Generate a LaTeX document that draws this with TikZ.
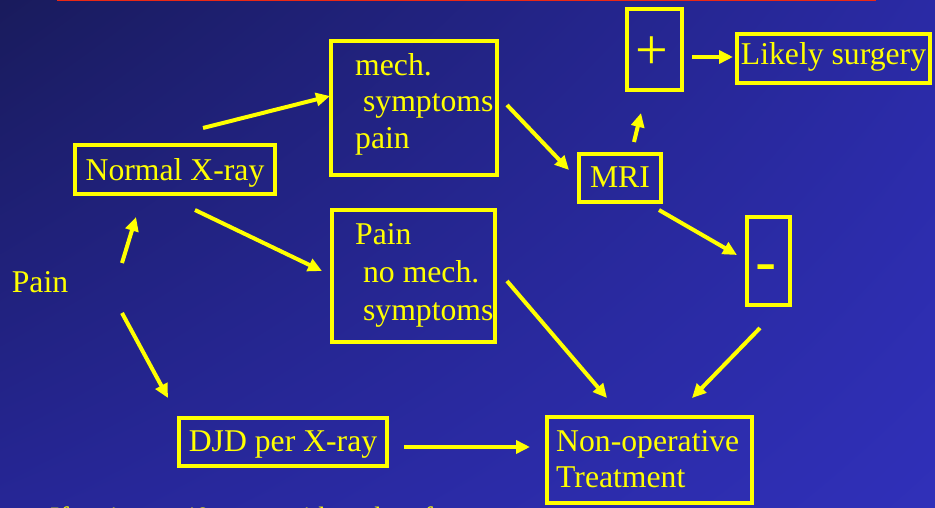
\documentclass[tikz,border=0pt]{standalone}
\usepackage{fontspec}
\setmainfont{Liberation Serif}
\newfontfamily\arialfont{Liberation Sans}
\usetikzlibrary{arrows.meta,calc,shadings}
\definecolor{ylw}{RGB}{255,255,0}
\definecolor{bgtl}{RGB}{25,27,92}
\definecolor{bgtr}{RGB}{42,42,165}
\definecolor{bgbl}{RGB}{38,38,150}
\definecolor{bgbr}{RGB}{48,48,185}
\definecolor{redline}{RGB}{235,40,20}
\begin{document}
\begin{tikzpicture}[x=1pt,y=-1pt,
  box/.style={draw=ylw, line width=4pt, inner sep=0pt, text=ylw, text height=20pt, text depth=0pt, font=\fontsize{31.7}{37}\selectfont},
  txt/.style={text=ylw, inner sep=0pt, font=\fontsize{31.7}{37}\selectfont, align=left},
  arr/.style={draw=ylw, line width=4pt, -{Triangle[length=14pt,width=13pt]}}]
\clip (0,0) rectangle (935,508);
\shade[upper left=bgtl, upper right=bgtr, lower left=bgbl, lower right=bgbr] (0,0) rectangle (935,508);
\draw[redline, line width=3pt] (57,0) -- (876,0);

% boxes
\node[box, minimum width=55pt, minimum height=81pt] (plus) at (654.5,49.5) {};
\node[text=ylw, inner sep=0pt, anchor=base, font=\fontsize{58}{60}\selectfont] (plussign) at (652,69.5) {+};
\node[box, minimum width=193pt, minimum height=49pt, text depth=7pt] (likely) at (833.5,58.5) {Likely surgery};
\node[box, minimum width=166pt, minimum height=134pt] (mech) at (414,108) {};
\node[txt, anchor=west, font=\fontsize{31.7}{36.5}\selectfont] (mechtxt) at (355,104) {mech.\\\ symptoms\\pain};
\node[box, minimum width=200pt, minimum height=49pt, text height=22pt] (xray) at (175,169.5) {Normal X-ray};
\node[box, minimum width=163pt, minimum height=132pt] (painbox) at (413.5,276) {};
\node[txt, anchor=west, font=\fontsize{31.7}{38}\selectfont] (paintxt) at (355,275.6) {Pain\\\ no mech.\\\ symptoms};
\node[box, minimum width=82pt, minimum height=48pt] (mri) at (620,178) {MRI};
\node[box, minimum width=43pt, minimum height=88pt] (minus) at (768.5,261) {};
\node[text=ylw, inner sep=0pt, anchor=base, xscale=1.6, transform shape, font=\arialfont\bfseries\fontsize{40}{44}\selectfont] (minussign) at (766,277.6) {-};
\node[box, minimum width=208pt, minimum height=48pt] (djd) at (283,441.5) {DJD per X-ray};
\node[box, minimum width=205pt, minimum height=86pt] (nonop) at (649.5,460) {};
\node[txt, anchor=west, font=\fontsize{31.7}{36}\selectfont] (nonoptxt) at (556,459.5) {Non-operative\\Treatment};
\node[txt] (pain) at (40,282) {Pain};
\node[txt, anchor=base west, font=\fontsize{28}{32}\selectfont] (note) at (50,526) {If patient > 40 years with no hx of trauma};

% arrows
\draw[arr] ($(pain)+(82,-19)$) -- ($(xray)+(-39,47.5)$);
\draw[arr] ($(pain)+(82,31)$) -- ($(djd)+(-115,-43.5)$);
\draw[arr] ($(xray)+(28,-41.5)$) -- ($(mech)+(-84,-12)$);
\draw[arr] ($(xray)+(20,40.5)$) -- ($(painbox)+(-91.5,-5)$);
\draw[arr] ($(mech)+(93,-3)$) -- ($(mri)+(-51,-8)$);
\draw[arr] ($(mri)+(14,-36)$) -- ($(plus)+(-13.5,63.5)$);
\draw[arr] ($(plus)+(37.5,7.5)$) -- ($(likely)+(-100.5,-1.5)$);
\draw[arr] ($(mri)+(39,32)$) -- ($(minus)+(-31.5,-6)$);
\draw[arr] ($(painbox)+(93.5,5)$) -- ($(nonop)+(-42.5,-62)$);
\draw[arr] ($(minus)+(-8.5,67)$) -- ($(nonop)+(42.5,-62)$);
\draw[arr] ($(djd)+(121,5.5)$) -- ($(nonop)+(-119.5,-13)$);
\end{tikzpicture}
\end{document}
